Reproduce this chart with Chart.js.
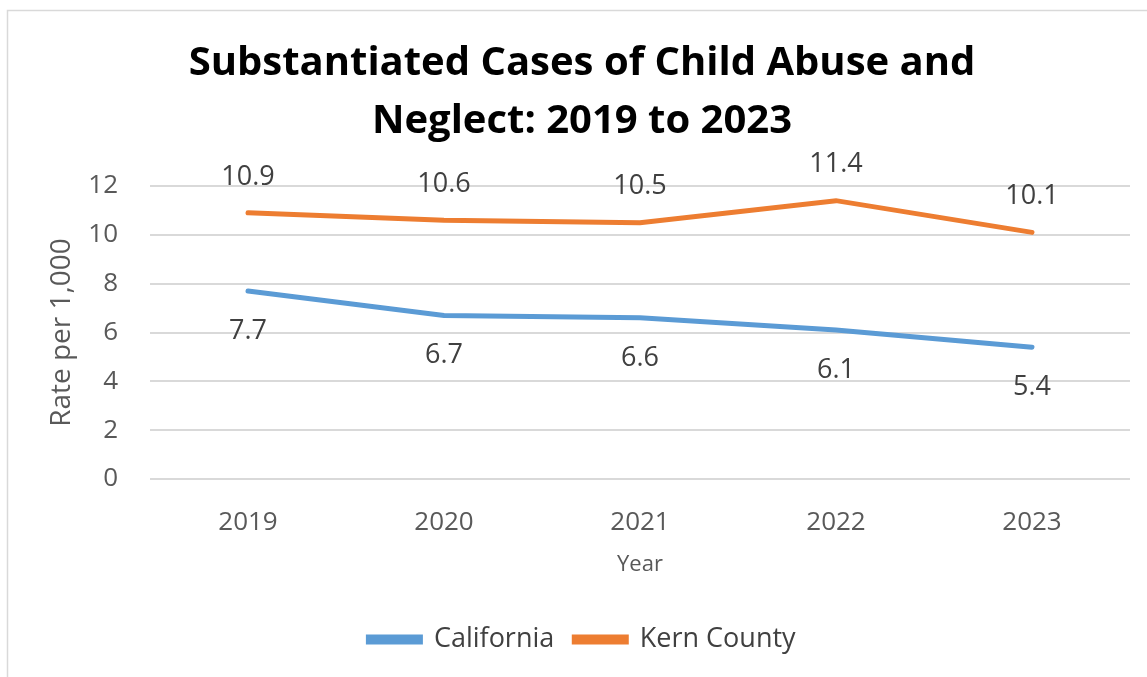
<!DOCTYPE html>
<html>
<head>
<meta charset="utf-8">
<script src="https://cdn.jsdelivr.net/npm/chart.js@4"></script>
<style>
  html, body { margin: 0; padding: 0; background: #fff; }
  #wrap { width: 1147px; height: 677px; }
</style>
</head>
<body>
<div id="wrap"><canvas id="lineChart" width="1147" height="677"></canvas></div>
<script>
// data
const years = ['2019', '2020', '2021', '2022', '2023'];
const california = [7.7, 6.7, 6.6, 6.1, 5.4];
const kernCounty = [10.9, 10.6, 10.5, 11.4, 10.1];
const yTicks = [0, 2, 4, 6, 8, 10, 12];

// outer frame like the office chart
const framePlugin = {
  id: 'frame',
  beforeDraw(chart) {
    const ctx = chart.ctx;
    ctx.save();
    ctx.fillStyle = '#fff';
    ctx.fillRect(0, 0, chart.width, chart.height);
    ctx.strokeStyle = '#D9D9D9';
    ctx.lineWidth = 1.5;
    ctx.strokeRect(7.5, 10.5, chart.width + 20, chart.height + 20);
    ctx.restore();
  }
};

// value labels, above for Kern, below for California
const labelPlugin = {
  id: 'valueLabels',
  afterDatasetsDraw(chart) {
    const ctx = chart.ctx;
    ctx.save();
    ctx.font = '27px "Open Sans", sans-serif';
    ctx.fillStyle = '#404040';
    ctx.textAlign = 'center';
    ctx.textBaseline = 'middle';
    chart.data.datasets.forEach((ds, i) => {
      const meta = chart.getDatasetMeta(i);
      const off = ds.labelPos === 'above' ? -36 : 40;
      meta.data.forEach((pt, j) => {
        ctx.fillText(ds.data[j].toFixed(1), pt.x, pt.y + off);
      });
    });
    ctx.restore();
  }
};

function createChart() {
  const ctx = document.getElementById('lineChart');
  new Chart(ctx, {
    type: 'line',
    data: {
      labels: years,
      datasets: [
        {
          label: 'California',
          data: california,
          borderColor: '#5B9BD5',
          backgroundColor: '#5B9BD5',
          borderWidth: 5,
          borderCapStyle: 'round',
          pointRadius: 0,
          labelPos: 'below'
        },
        {
          label: 'Kern County',
          data: kernCounty,
          borderColor: '#ED7D31',
          backgroundColor: '#ED7D31',
          borderWidth: 5,
          borderCapStyle: 'round',
          pointRadius: 0,
          labelPos: 'above'
        }
      ]
    },
    options: {
      responsive: false,
      animation: false,
      layout: { padding: { left: 34, right: 17, top: 8, bottom: 14 } },
      plugins: {
        title: {
          display: true,
          text: ['Substantiated Cases of Child Abuse and', 'Neglect: 2019 to 2023'],
          color: '#000',
          font: { family: '"Open Sans", sans-serif', size: 40, weight: 'bold', lineHeight: 1.45 },
          padding: { top: 27, bottom: 35 }
        },
        legend: {
          position: 'bottom',
          labels: {
            color: '#404040',
            font: { family: '"Open Sans", sans-serif', size: 27 },
            boxWidth: 52,
            boxHeight: 5,
            padding: 20
          }
        },
        tooltip: { enabled: false }
      },
      scales: {
        x: {
          offset: true,
          grid: { display: false },
          border: { display: false },
          afterFit(axis) { axis.height = 127; },
          ticks: { color: '#595959', font: { family: '"Open Sans", sans-serif', size: 26 }, padding: 20 },
          title: {
            display: true, text: 'Year', color: '#595959',
            font: { family: '"Open Sans", sans-serif', size: 22 }, padding: { top: 0, bottom: 28 }
          }
        },
        y: {
          min: 0,
          max: 12,
          afterBuildTicks(axis) { axis.ticks = yTicks.map(v => ({ value: v })); },
          afterFit(axis) { axis.width = 116; },
          grid: { color: '#D9D9D9', lineWidth: 2, drawTicks: false },
          border: { display: false },
          ticks: { color: '#595959', font: { family: '"Open Sans", sans-serif', size: 26 }, padding: 32 },
          title: {
            display: true, text: 'Rate per 1,000', color: '#595959',
            font: { family: '"Open Sans", sans-serif', size: 28 }, padding: { top: 11, bottom: 4 }
          }
        }
      }
    },
    plugins: [framePlugin, labelPlugin]
  });
}

if (typeof Chart === 'undefined') {
  window.addEventListener('load', createChart);
} else {
  createChart();
}
</script>
</body>
</html>
